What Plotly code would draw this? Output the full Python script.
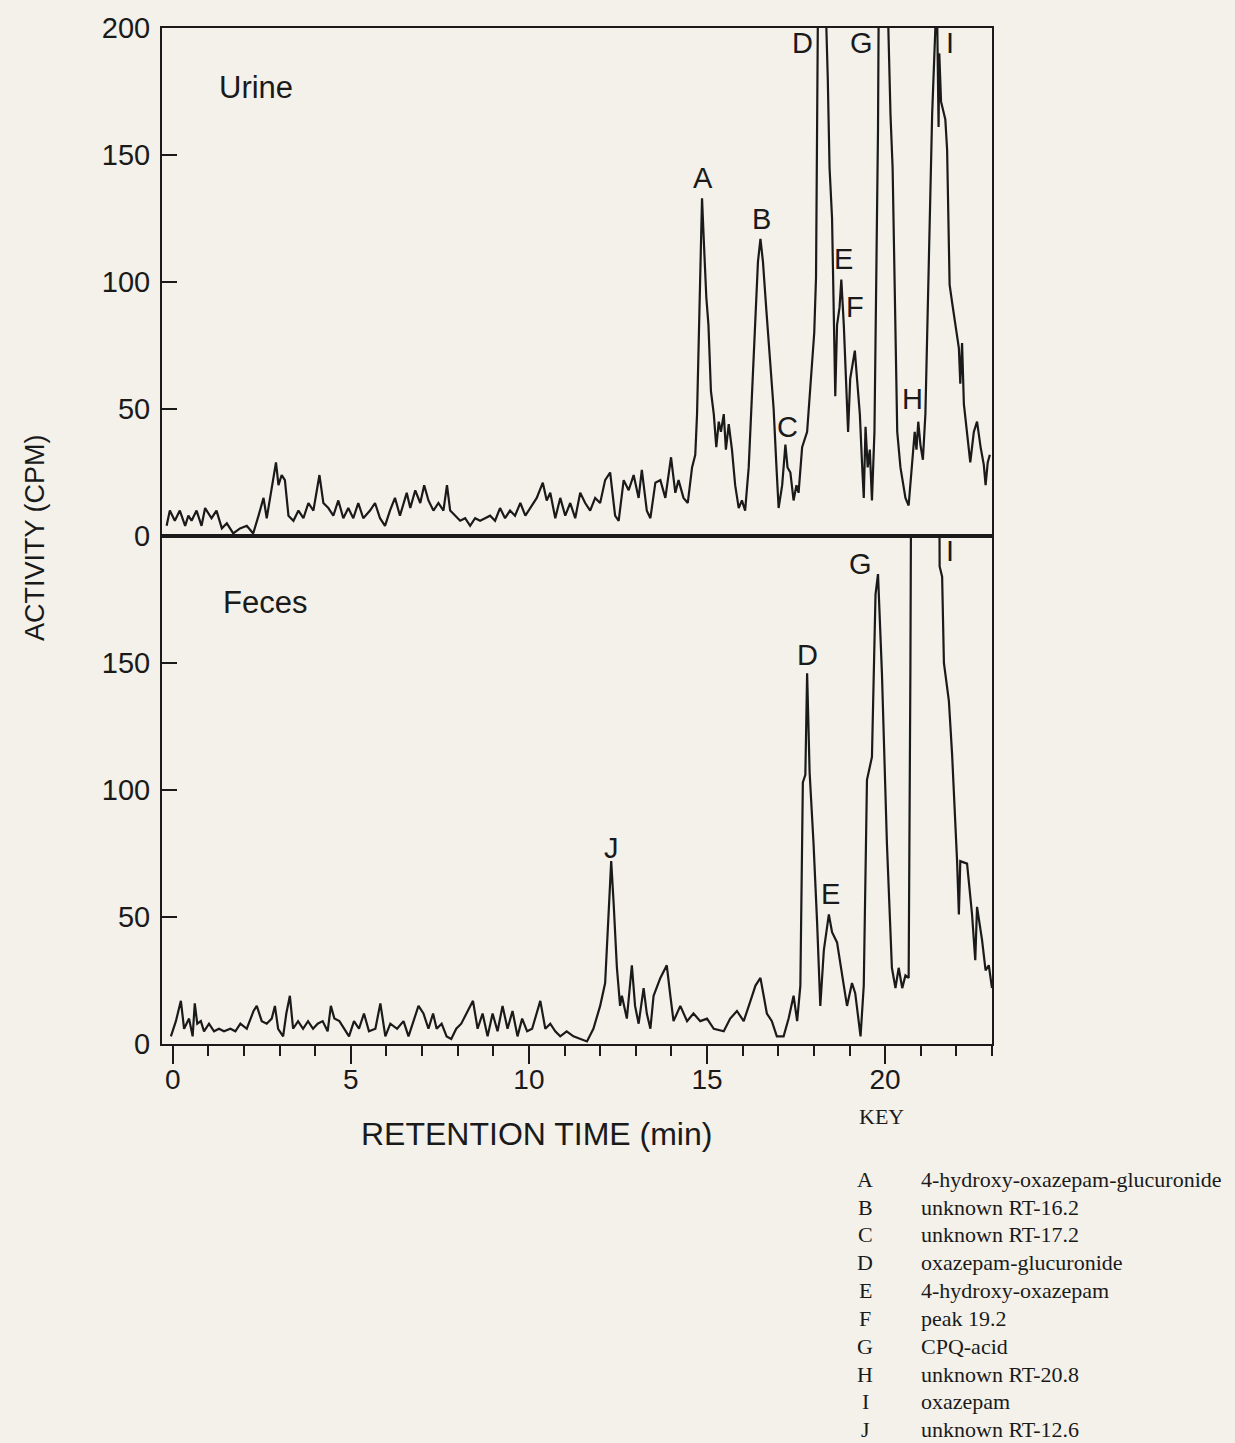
import plotly.graph_objects as go
from plotly.subplots import make_subplots

# ---------------- data ----------------
t_urine = [-0.17, -0.08, 0.06, 0.20, 0.35, 0.44, 0.53, 0.67, 0.81, 0.91, 1.09, 1.23, 1.38, 1.52, 1.70,
           1.89, 2.08, 2.26, 2.41, 2.55, 2.64, 2.78, 2.90, 2.97, 3.06, 3.15, 3.25, 3.39, 3.53, 3.67,
           3.81, 3.95, 4.12, 4.23, 4.37, 4.51, 4.65, 4.79, 4.93, 5.07, 5.21, 5.35, 5.54, 5.68, 5.82,
           5.96, 6.10, 6.24, 6.38, 6.57, 6.67, 6.81, 6.95, 7.06, 7.18, 7.32, 7.46, 7.60, 7.70, 7.79,
           7.93, 8.07, 8.21, 8.35, 8.49, 8.63, 8.77, 8.91, 9.05, 9.19, 9.33, 9.47, 9.61, 9.76, 9.90,
           10.04, 10.22, 10.39, 10.50, 10.60, 10.74, 10.88, 11.02, 11.16, 11.30, 11.44, 11.58, 11.72,
           11.86, 12.00, 12.14, 12.28, 12.42, 12.52, 12.66, 12.80, 12.94, 13.08, 13.17, 13.31, 13.41,
           13.55, 13.69, 13.83, 13.99, 14.11, 14.20, 14.34, 14.46, 14.58, 14.67, 14.72, 14.79, 14.86,
           14.92, 14.98, 15.04, 15.11, 15.19, 15.26, 15.33, 15.39, 15.47, 15.53, 15.61, 15.70, 15.79,
           15.89, 15.98, 16.07, 16.17, 16.26, 16.36, 16.43, 16.50, 16.57, 16.66, 16.78, 16.87, 16.95,
           17.01, 17.11, 17.20, 17.26, 17.34, 17.43, 17.51, 17.57, 17.67, 17.81, 17.92, 18.01, 18.06,
           18.11, 18.14, 18.31, 18.35, 18.39, 18.44, 18.51, 18.56, 18.60, 18.65, 18.72, 18.77, 18.84,
           18.90, 18.96, 19.02, 19.10, 19.15, 19.21, 19.29, 19.35, 19.40, 19.45, 19.51, 19.57, 19.63,
           19.70, 19.75, 19.80, 19.84, 20.05, 20.09, 20.15, 20.21, 20.27, 20.34, 20.43, 20.57, 20.66,
           20.76, 20.83, 20.88, 20.93, 20.99, 21.06, 21.13, 21.22, 21.32, 21.41, 21.46, 21.50, 21.52,
           21.57, 21.69, 21.74, 21.81, 21.88, 21.97, 22.07, 22.11, 22.16, 22.21, 22.30, 22.39, 22.49,
           22.58, 22.68, 22.77, 22.82, 22.88, 22.94]
cpm_urine = [4, 10, 6, 10, 4, 8, 6, 10, 4, 11, 7, 10, 3, 5, 1,
             3, 4, 1, 8, 15, 7, 18, 29, 20, 24, 22, 8, 6, 10, 7,
             13, 10, 24, 13, 11, 8, 14, 7, 11, 7, 13, 7, 10, 13, 7,
             4, 10, 15, 8, 17, 11, 18, 13, 20, 14, 10, 13, 10, 20, 10,
             8, 6, 7, 4, 7, 6, 7, 8, 6, 11, 7, 10, 8, 13, 8,
             11, 15, 21, 14, 17, 7, 15, 8, 13, 7, 17, 13, 10,
             15, 13, 22, 25, 8, 6, 22, 18, 24, 15, 26, 10, 7,
             21, 22, 15, 31, 17, 22, 15, 13, 27, 32, 48, 94, 133,
             113, 94, 83, 57, 48, 35, 45, 41, 48, 34, 44, 34, 20,
             11, 14, 10, 27, 55, 83, 108, 117, 108, 90, 69, 50, 27,
             11, 20, 36, 27, 25, 14, 20, 17, 35, 41, 62, 80, 102,
             162, 260, 260, 200, 180, 145, 125, 83, 55, 83, 90, 101, 83,
             62, 41, 62, 69, 73, 62, 48, 29, 15, 43, 27, 34, 14,
             41, 97, 160, 260, 260, 200, 166, 145, 97, 41, 27, 15, 12,
             29, 41, 34, 45, 36, 30, 48, 110, 166, 200, 205, 161, 190,
             171, 164, 152, 99, 92, 83, 74, 60, 76, 52, 41, 29, 41,
             45, 35, 28, 20, 29, 32]

t_feces = [-0.05, 0.09, 0.23, 0.32, 0.46, 0.56, 0.62, 0.69, 0.79, 0.88, 1.02, 1.16, 1.30, 1.44, 1.62,
           1.76, 1.90, 2.08, 2.27, 2.36, 2.50, 2.64, 2.78, 2.87, 2.96, 3.10, 3.19, 3.29, 3.38, 3.52,
           3.66, 3.80, 3.94, 4.07, 4.21, 4.35, 4.44, 4.54, 4.68, 4.81, 4.95, 5.09, 5.23, 5.37, 5.51,
           5.69, 5.83, 5.97, 6.11, 6.30, 6.48, 6.62, 6.76, 6.90, 7.04, 7.18, 7.31, 7.41, 7.55, 7.69,
           7.82, 7.96, 8.10, 8.24, 8.43, 8.56, 8.70, 8.84, 8.98, 9.12, 9.26, 9.40, 9.54, 9.68, 9.81,
           9.95, 10.09, 10.32, 10.46, 10.60, 10.74, 10.88, 11.06, 11.25, 11.44, 11.63, 11.81, 12.00,
           12.14, 12.24, 12.31, 12.38, 12.47, 12.56, 12.61, 12.75, 12.89, 12.98, 13.08, 13.22, 13.31,
           13.41, 13.50, 13.69, 13.87, 13.97, 14.06, 14.25, 14.44, 14.62, 14.81, 15.00, 15.19, 15.47,
           15.65, 15.84, 16.03, 16.22, 16.36, 16.50, 16.68, 16.82, 16.96, 17.15, 17.29, 17.43, 17.53,
           17.62, 17.69, 17.76, 17.81, 17.88, 17.99, 18.09, 18.18, 18.28, 18.42, 18.51, 18.65, 18.84,
           18.93, 19.07, 19.16, 19.31, 19.40, 19.49, 19.63, 19.73, 19.80, 19.91, 20.05, 20.19, 20.29,
           20.38, 20.48, 20.57, 20.66, 20.71, 20.74, 21.51, 21.53, 21.60, 21.65, 21.79, 21.88, 22.02,
           22.07, 22.11, 22.30, 22.44, 22.53, 22.58, 22.72, 22.82, 22.91, 23.00]
cpm_feces = [3, 9, 17, 6, 10, 3, 16, 8, 9, 5, 8, 5, 6, 5, 6,
             5, 8, 6, 13, 15, 9, 8, 10, 15, 6, 3, 12, 19, 6, 9,
             6, 9, 6, 8, 9, 5, 15, 10, 9, 6, 3, 9, 6, 12, 5,
             6, 16, 3, 8, 6, 9, 3, 9, 15, 12, 6, 12, 6, 8, 3,
             2, 6, 8, 12, 17, 6, 12, 3, 12, 5, 15, 6, 13, 3, 10,
             5, 6, 17, 6, 8, 5, 3, 5, 3, 2, 1, 6, 15,
             24, 51, 72, 55, 30, 15, 19, 10, 31, 15, 8, 22, 12,
             6, 19, 26, 31, 19, 9, 15, 9, 12, 9, 10, 6, 5,
             10, 13, 9, 17, 23, 26, 12, 9, 3, 3, 10, 19, 9,
             23, 103, 106, 146, 107, 79, 48, 15, 37, 51, 44, 40, 23,
             15, 24, 20, 3, 23, 104, 113, 177, 185, 146, 79, 30, 22,
             30, 22, 27, 26, 149, 260, 260, 188, 184, 150, 135, 114, 72,
             51, 72, 71, 51, 33, 54, 41, 29, 31, 22]

x_ticks = [0, 5, 10, 15, 20]
y_ticks_top = [0, 50, 100, 150, 200]
y_ticks_bottom = [0, 50, 100, 150]

urine_labels = ["A", "B", "C", "D", "E", "F", "G", "H", "I"]
urine_label_t = [14.88, 16.52, 17.26, 17.67, 18.84, 19.14, 19.35, 20.78, 21.83]
urine_label_v = [141, 125, 43, 194, 109, 90, 194, 54, 194]

feces_labels = ["J", "D", "E", "G", "I"]
feces_label_t = [12.31, 17.81, 18.46, 19.31, 21.81]
feces_label_v = [77, 153, 59, 189, 194]

key_letters = ["A", "B", "C", "D", "E", "F", "G", "H", "I", "J"]
key_names = ["4-hydroxy-oxazepam-glucuronide", "unknown RT-16.2", "unknown RT-17.2",
             "oxazepam-glucuronide", "4-hydroxy-oxazepam", "peak 19.2", "CPQ-acid",
             "unknown RT-20.8", "oxazepam", "unknown RT-12.6"]

# ---------------- figure ----------------
INK = "#1a1a1a"
BG = "#f3f1ea"
SANS = "Liberation Sans, Arial, sans-serif"
SERIF = "Liberation Serif, Times New Roman, serif"

L, R, T, B = 162, 992, 22, 1044
W, H = 1235, 1443


def px(x):
    return (x - L) / (R - L)


def py(y):
    return (B - y) / (B - T)


fig = make_subplots(rows=2, cols=1, shared_xaxes=True, vertical_spacing=0)
fig.add_trace(go.Scatter(x=t_urine, y=cpm_urine, mode="lines",
                         line=dict(color=INK, width=2.2)), row=1, col=1)
fig.add_trace(go.Scatter(x=t_feces, y=cpm_feces, mode="lines",
                         line=dict(color=INK, width=2.2)), row=2, col=1)

axis_common = dict(showline=True, linecolor=INK, linewidth=2, mirror=True,
                   showgrid=False, zeroline=False)

fig.update_xaxes(range=[-0.3, 23], **axis_common)
fig.update_xaxes(ticks="", showticklabels=False, row=1, col=1)
fig.update_xaxes(ticks="outside", tickmode="array", tickvals=x_ticks,
                 ticklen=18, tickwidth=2, tickcolor=INK, showticklabels=True,
                 tickfont=dict(family=SANS, size=28, color=INK),
                 minor=dict(tickmode="array", tickvals=list(range(0, 24)),
                            ticks="outside", ticklen=10, tickwidth=2, tickcolor=INK),
                 row=2, col=1)
try:
    fig.update_xaxes(ticklabelstandoff=-9, row=2, col=1)
except Exception:
    pass

fig.update_yaxes(range=[0, 200], ticks="inside", ticklen=15, tickwidth=2,
                 tickcolor=INK, tickfont=dict(family=SANS, size=29, color=INK),
                 **axis_common)
fig.update_yaxes(tickmode="array", tickvals=y_ticks_top, row=1, col=1)
fig.update_yaxes(tickmode="array", tickvals=y_ticks_bottom, row=2, col=1)
try:
    fig.update_yaxes(ticklabelstandoff=4)
except Exception:
    pass

ann = []
for lab, tt, vv in zip(urine_labels, urine_label_t, urine_label_v):
    ann.append(dict(x=tt, y=vv, xref="x", yref="y", text=lab, showarrow=False,
                    xanchor="center", yanchor="middle",
                    font=dict(family=SANS, size=29, color=INK)))
for lab, tt, vv in zip(feces_labels, feces_label_t, feces_label_v):
    ann.append(dict(x=tt, y=vv, xref="x2", yref="y2", text=lab, showarrow=False,
                    xanchor="center", yanchor="middle",
                    font=dict(family=SANS, size=29, color=INK)))

ann.append(dict(x=1.25, y=176.5, xref="x", yref="y", text="Urine", xanchor="left",
                yanchor="middle", showarrow=False, font=dict(family=SANS, size=31, color=INK)))
ann.append(dict(x=1.35, y=174, xref="x2", yref="y2", text="Feces", xanchor="left",
                yanchor="middle", showarrow=False, font=dict(family=SANS, size=31, color=INK)))

ann.append(dict(x=px(35), y=py(535), xref="paper", yref="paper", text="ACTIVITY (CPM)",
                textangle=-90, xanchor="center", yanchor="middle", showarrow=False,
                font=dict(family=SANS, size=27, color=INK)))
ann.append(dict(x=px(536), y=py(1135), xref="paper", yref="paper", text="RETENTION TIME (min)",
                xanchor="center", yanchor="middle", showarrow=False,
                font=dict(family=SANS, size=32, color=INK)))

ann.append(dict(x=px(857), y=py(1117), xref="paper", yref="paper", text="KEY",
                xanchor="left", yanchor="middle", showarrow=False,
                font=dict(family=SERIF, size=22, color=INK)))
for i, (k, nme) in enumerate(zip(key_letters, key_names)):
    yy = 1180 + i * 28
    ann.append(dict(x=px(865), y=py(yy), xref="paper", yref="paper", text=k,
                    xanchor="center", yanchor="middle", showarrow=False,
                    font=dict(family=SERIF, size=22, color=INK)))
    ann.append(dict(x=px(919), y=py(yy), xref="paper", yref="paper", text=nme,
                    xanchor="left", yanchor="middle", showarrow=False,
                    font=dict(family=SERIF, size=22, color=INK)))

fig.update_layout(width=W, height=H, margin=dict(l=L, r=W - R, t=T, b=H - B),
                  paper_bgcolor=BG, plot_bgcolor=BG, showlegend=False,
                  annotations=ann, font=dict(family=SANS, color=INK))

fig.write_html("out.html", config={"displayModeBar": False},
               post_script="document.body.style.margin='0';document.body.style.overflow='hidden';")
